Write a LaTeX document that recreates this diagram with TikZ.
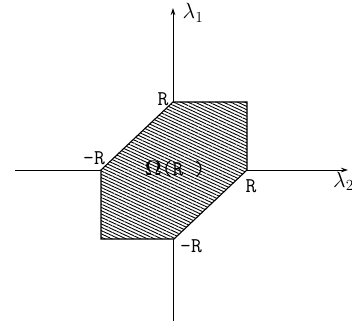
\RequirePackage{fix-cm}
\documentclass[tikz,border=0pt]{standalone}
\usepackage{amsmath,amssymb}
\usepackage[no-math]{fontspec}
\usetikzlibrary{arrows.meta,patterns.meta}
\begin{document}
\begin{tikzpicture}[
  x=1pt,y=1pt,
  axis/.style={line width=0.8pt,-{Stealth[length=7pt,width=4.5pt]}},
  region/.style={draw,line width=1.1pt,preaction={fill=white},
                 pattern={Lines[angle=-25,distance=3pt,line width=0.9pt]}},
  tick/.style={font=\fontsize{21}{21}\selectfont\ttfamily,inner sep=1pt},
  regtext/.style={font=\fontsize{21}{21}\selectfont\ttfamily,inner sep=1pt},
  axlabel/.style={font=\fontsize{22}{22}\selectfont,inner sep=1pt}
]
\useasboundingbox (-173,-159) rectangle (179,170);
% axes
\coordinate (xs) at (-158,0);
\coordinate (xe) at (175,0);
\coordinate (ys) at (0,-151);
\coordinate (ye) at (0,162);
\draw[axis] (xs) -- (xe);
\draw[axis] (ys) -- (ye);
\node[axlabel] (l1) at (20,157) {$\lambda_1$};
\node[axlabel,anchor=north west] (l2) at (159,-1) {$\lambda_2$};
% the region
\coordinate (p1) at (0,68);
\coordinate (p2) at (74,68);
\coordinate (p3) at (74,0);
\coordinate (p4) at (1,-69);
\coordinate (p5) at (-72,-69);
\coordinate (p6) at (-72,0);
\draw[region] (p1) -- (p2) -- (p3) -- (p4) -- (p5) -- (p6) -- cycle;
\node[regtext] (om) at (2,1) {$\mathbf{\Omega}$(R )};
% ticks
\node[tick] (rt) at (-10,71) {R};
\node[tick] (rl) at (-79,12) {-R};
\node[tick] (rr) at (78,-16) {R};
\node[tick] (rb) at (18,-76) {-R};
\end{tikzpicture}
\end{document}
